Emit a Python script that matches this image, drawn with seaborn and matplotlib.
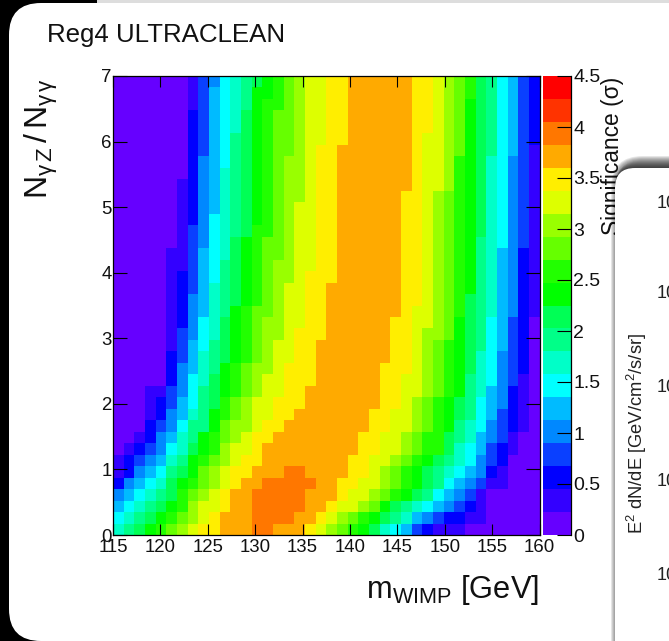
"""
Reg4 ULTRACLEAN significance map, slide crop
Run: python plot.py
"""

import matplotlib
matplotlib.use('Agg')

import matplotlib.pyplot as plt
import numpy as np
import seaborn as sns
from matplotlib.colors import ListedColormap
from matplotlib.patches import FancyBboxPatch, Rectangle


# ── Data ─────────────────────────────────────────────────────────────────────

# colour level of each cell, top row first, base 20 (0-9 then a-j)
LEFT_ROWS = [
    '00000001346789abcdee', '0000000135678aabcdee', '0000000135678abbcdee',
    '0000000235679abccdee', '0000000235679abccdee', '0000000235689abccdee',
    '0000000235689abccdef', '0000000245689abcddef', '0000000245789abcddef',
    '0000001245789abcddef', '0000001245789abcddef', '0000001245789abcdeef',
    '0000001246789abcdeef', '0000001346789bbcdeef', '000000134679abccdeef',
    '000001135679abccdeef', '000001135689abcddeef', '000001235689abcddeff',
    '000001235789abcdeeff', '000001245789abcdeeff', '00000124578abccdeeff',
    '00000124679abcddeeff', '00000134679abcddefff', '00000135689abcdeeffg',
    '00000235789abcdeeffg', '0000024578abcddefffg', '0000024679abcdeefffg',
    '0001134689abcdeeffgg', '0001235689bcdeefffgg', '000124578abcdeeffggg',
    '000234688acddeffgggg', '00124578abcdeffggggg', '01234679abdeefgggggg',
    '1234578abcdeffgggggg', '1245689acdeffggghhgg', '245679abcdefgghhhhhg',
    '456789bcdefgghhhhhgg', '56789abdeefgghhhhhgg', '6789abcdefggghhhhggf',
    '789abcdeffggghhgggfe',
]
RIGHT_ROWS = [
    'ffggggggffedcb986532', 'ffggggggffedcb986532', 'ffggggggffedca986532',
    'ffggggggffedca986532', 'ffggggggffedca986532', 'ffggggggfeedca986532',
    'fgggggggfeedca986531', 'fgggggggfeedba976431', 'fgggggggfeedba976431',
    'fgggggggfeedba976431', 'fggggggffedcba976431', 'fggggggffedcba976431',
    'fggggggffedcba976431', 'fggggggffedcba976431', 'fggggggffedcba876431',
    'fggggggffedcba875421', 'fggggggffedcba875421', 'fggggggffedcba875421',
    'gggggggffedcba875421', 'gggggggffedcb9875421', 'gggggggfeedcb9875421',
    'ggggggffeedca9865320', 'ggggggffeddca9865320', 'ggggggffedcba9865320',
    'ggggggffedcba9764320', 'gggggfffedcba9764320', 'gggggffeedcba8764310',
    'gggggffeedcba8754210', 'gggggffedcba98654210', 'ggggffeedcba98653210',
    'ggggffeedcba87643210', 'gggffeedcbb987543100', 'gggffeedcbb976532100',
    'ggffeedcba9876432000', 'ggffedcba98765421000', 'gffeedcba98654311000',
    'gfeedcba986543100000', 'feedca98765432100000', 'edcba987543221100000',
    'dcba9765321110000000',
]
PALETTE = [
    '#6600ff', '#3300ff', '#0000ff', '#0a40ff', '#0088ff',
    '#00bbff', '#00ffff', '#00ffc8', '#00ff88', '#00ff55',
    '#00ff00', '#22ff00', '#66ff00', '#99ff00', '#ddff00',
    '#ffee00', '#ffaa00', '#ff7700', '#ff3300', '#ff0000',
]
X_TICKS = [115, 120, 125, 130, 135, 140, 145, 150, 155, 160]
Y_TICKS = [0, 1, 2, 3, 4, 5, 6, 7]
CBAR_TICKS = [0, 0.5, 1, 1.5, 2, 2.5, 3, 3.5, 4, 4.5]
SIDE_TICK_LABELS = ['10', '10', '10', '10', '10']
X_MIN, X_MAX, Y_MAX, Z_MAX = 115, 160, 7, 4.5


# ── Setup ────────────────────────────────────────────────────────────────────

W, H = 669, 641
sns.set_theme(style='white')
plt.rcParams['font.family'] = ['Liberation Sans', 'DejaVu Sans']
plt.rcParams['mathtext.fontset'] = 'custom'
plt.rcParams['mathtext.rm'] = 'Liberation Sans'
plt.rcParams['mathtext.it'] = 'Liberation Sans:italic'
plt.rcParams['mathtext.bf'] = 'Liberation Sans:bold'

levels = np.array([[int(c, 20) for c in a + b] for a, b in zip(LEFT_ROWS, RIGHT_ROWS)])
significance = (levels + 0.5) * Z_MAX / len(PALETTE)
n_rows, n_cols = significance.shape


def box(l, t, r, b):
    return [l / W, 1 - b / H, (r - l) / W, (b - t) / H]


fig = plt.figure(figsize=(W / 100, H / 100), dpi=100, facecolor='white')


# ── Slide background ─────────────────────────────────────────────────────────

bg = fig.add_axes([0, 0, 1, 1], zorder=0)
bg.set_xlim(0, W)
bg.set_ylim(H, 0)
bg.axis('off')
bg.add_patch(Rectangle((97, 0), W, 4, color='#dddddd', lw=0))
bg.add_patch(Rectangle((0, 0), 97, H, color='black', lw=0))
bg.add_patch(FancyBboxPatch((9, 3), 900, H - 3, boxstyle='round,pad=0,rounding_size=32',
                            fc='white', ec='none'))
bg.text(47, 35, 'Reg4 ULTRACLEAN', fontsize=18.6, color='#111111', ha='left', va='center')


# ── Heatmap ──────────────────────────────────────────────────────────────────

ax = fig.add_axes(box(113, 76, 539.5, 535), zorder=2)
cax = fig.add_axes(box(543, 76, 571, 535), zorder=2)
sns.heatmap(significance, ax=ax, cbar_ax=cax, cmap=ListedColormap(PALETTE),
            vmin=0, vmax=Z_MAX, cbar_kws={'ticks': CBAR_TICKS},
            xticklabels=False, yticklabels=False)

ax.set_axisbelow(False)
ax.set_xticks([(v - X_MIN) / (X_MAX - X_MIN) * n_cols for v in X_TICKS])
ax.set_xticklabels([str(v) for v in X_TICKS], rotation=0, fontsize=13.4)
ax.set_yticks([(Y_MAX - v) / Y_MAX * n_rows for v in Y_TICKS])
ax.set_yticklabels([str(v) for v in Y_TICKS], rotation=0, fontsize=13.4)
ax.tick_params(axis='x', direction='in', length=8, width=0.8, top=True, bottom=True,
               color='black', pad=3, labelcolor='#111111')
ax.tick_params(axis='y', direction='in', length=10, width=0.8, left=True, right=True,
               color='black', pad=1, labelcolor='#111111')
for spine in ax.spines.values():
    spine.set_visible(True)
    spine.set_color('black')
    spine.set_linewidth(0.9)

cbar = ax.collections[0].colorbar
cbar.set_ticklabels([f'{v:g}' for v in CBAR_TICKS])
cbar.ax.set_axisbelow(False)
cbar.ax.tick_params(direction='in', length=10, width=0.8, right=True, color='black',
                    pad=1.5, labelsize=14, labelcolor='#111111')
cbar.outline.set_visible(False)
cbar.ax.spines['right'].set_visible(True)
cbar.ax.spines['right'].set_color('black')
cbar.ax.spines['right'].set_linewidth(0.9)

fig.text(539 / W, 1 - 590 / H, r'$\mathrm{m_{WIMP}}$ [GeV]', fontsize=22.2,
         color='#111111', ha='right', va='center')
fig.text(41 / W, 1 - 78 / H, r'$\mathrm{N_{\gamma\,Z}\,/\,N_{\gamma\,\gamma}}$', fontsize=23,
         color='#111111', rotation=90, ha='center', va='top')
fig.text(613 / W, 1 - 235 / H, 'Significance (σ)', fontsize=16.4, color='#111111',
         rotation=90, ha='center', va='bottom', family=['Liberation Sans', 'DejaVu Sans'])


# ── Second slide panel on top ────────────────────────────────────────────────

top = fig.add_axes([0, 0, 1, 1], zorder=5)
top.set_xlim(0, W)
top.set_ylim(H, 0)
top.axis('off')
top.patch.set_alpha(0)
for spread in range(12, 0, -1):
    left = 615 - max(0, spread - 8)
    top.add_patch(FancyBboxPatch((left, 168 - spread), 400, 600,
                                 boxstyle=f'round,pad=0,rounding_size={20 + spread}',
                                 fc='black', ec='none', alpha=0.1))
top.add_patch(FancyBboxPatch((615, 168), 400, 600, boxstyle='round,pad=0,rounding_size=20',
                             fc='white', ec='none'))
for y_px, label in zip([203, 293, 387, 481, 575], SIDE_TICK_LABELS):
    top.text(657, y_px, label, fontsize=13, color='#222222', ha='left', va='center')
top.text(637, 433, r'E$^{2}$ dN/dE [GeV/cm$^{2}$/s/sr]', fontsize=13.2, color='#222222',
         rotation=90, ha='center', va='center')

fig.savefig('out.png', dpi=100)
